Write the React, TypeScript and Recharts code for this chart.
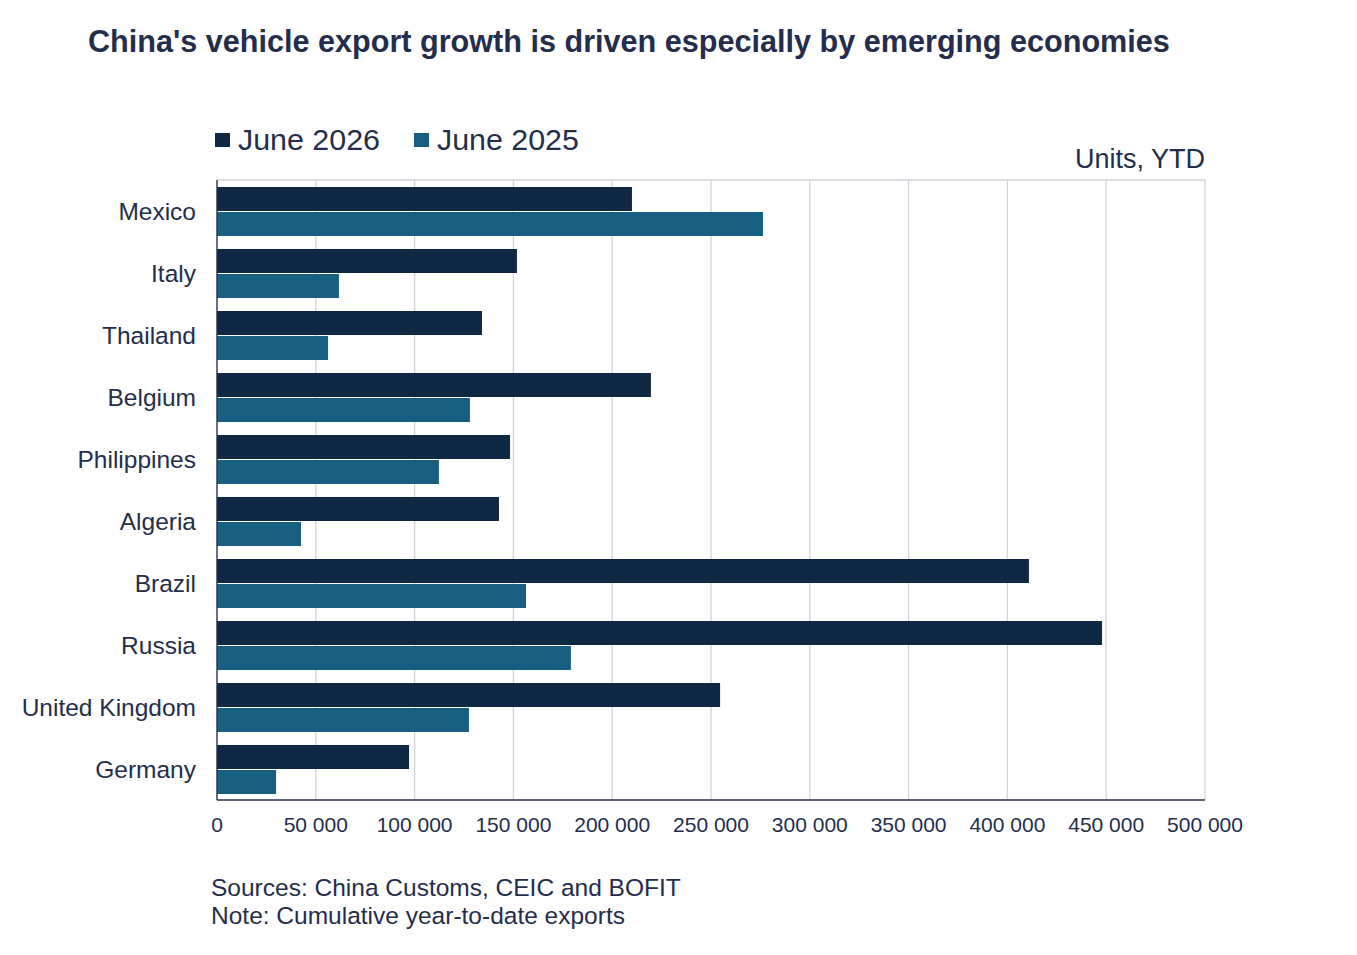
import React from "react";
import {
  BarChart,
  Bar,
  XAxis,
  YAxis,
  CartesianGrid,
} from "recharts";

// Cumulative year-to-date vehicle exports from China, units
const countries = [
  "Mexico",
  "Italy",
  "Thailand",
  "Belgium",
  "Philippines",
  "Algeria",
  "Brazil",
  "Russia",
  "United Kingdom",
  "Germany",
];
const june2026 = [210000, 151800, 134100, 219600, 148300, 142700, 410900, 447900, 254600, 97200];
const june2025 = [276300, 61700, 56200, 128000, 112300, 42500, 156400, 179100, 127500, 29900];
const xTicks = [0, 50000, 100000, 150000, 200000, 250000, 300000, 350000, 400000, 450000, 500000];

const data = countries.map((name, i) => ({ name, y2026: june2026[i], y2025: june2025[i] }));

const TEXT = "#242e4c";
const NAVY = "#0f2944";
const TEAL = "#175f80";
const GRID = "#d2d2da";
const FONT = "'Liberation Sans', Arial, Helvetica, sans-serif";

const series = [
  { key: "y2026", name: "June 2026", color: NAVY },
  { key: "y2025", name: "June 2025", color: TEAL },
];

const fmt = (v: number) => String(v).replace(/\B(?=(\d{3})+(?!\d))/g, " ");

export default function App() {
  return (
    <div
      style={{
        position: "absolute",
        left: 0,
        top: 0,
        width: 1357,
        height: 955,
        background: "#fff",
        fontFamily: FONT,
        color: TEXT,
      }}
    >
      <div style={{ position: "absolute", left: 88, top: 24, fontSize: 30.6, fontWeight: 700, whiteSpace: "nowrap" }}>
        China's vehicle export growth is driven especially by emerging economies
      </div>

      {/* legend */}
      <div style={{ position: "absolute", left: 215, top: 122, display: "flex", alignItems: "center", fontSize: 30.4 }}>
        {series.map((s) => (
          <div key={s.key} style={{ display: "flex", alignItems: "center", marginRight: 34 }}>
            <div style={{ width: 15, height: 14, background: s.color, marginRight: 8 }} />
            <span>{s.name}</span>
          </div>
        ))}
      </div>

      <div style={{ position: "absolute", right: 152, top: 144, fontSize: 27, whiteSpace: "nowrap" }}>
        Units, YTD
      </div>

      <div style={{ position: "absolute", left: 0, top: 0 }}>
        <BarChart
          width={1357}
          height={955}
          data={data}
          layout="vertical"
          margin={{ top: 179, right: 152, bottom: 115, left: 0 }}
          barGap={1}
        >
          <CartesianGrid xAxisId="bottom" horizontal={false} stroke={GRID} strokeWidth={1.3} />
          <XAxis
            xAxisId="top"
            orientation="top"
            type="number"
            domain={[0, 500000]}
            height={1}
            tick={false}
            tickLine={false}
            axisLine={{ stroke: GRID, strokeWidth: 1.3 }}
          />
          <XAxis
            xAxisId="bottom"
            type="number"
            domain={[0, 500000]}
            ticks={xTicks}
            tickFormatter={fmt}
            interval={0}
            height={40}
            tickLine={false}
            tickMargin={11}
            axisLine={{ stroke: TEXT, strokeWidth: 1.3 }}
            tick={{ fill: TEXT, fontSize: 21, fontFamily: FONT }}
          />
          <YAxis
            type="category"
            dataKey="name"
            width={217}
            tickLine={false}
            tickMargin={15}
            interval={0}
            axisLine={{ stroke: TEXT, strokeWidth: 1.3 }}
            tick={{ fill: TEXT, fontSize: 24.5, fontFamily: FONT }}
          />
          {series.map((s) => (
            <Bar
              key={s.key}
              xAxisId="bottom"
              dataKey={s.key}
              name={s.name}
              fill={s.color}
              barSize={24}
              isAnimationActive={false}
            />
          ))}
        </BarChart>
      </div>

      <div style={{ position: "absolute", left: 211, top: 874, fontSize: 24.5, lineHeight: "28px", whiteSpace: "nowrap" }}>
        <div>Sources: China Customs, CEIC and BOFIT</div>
        <div>Note: Cumulative year-to-date exports</div>
      </div>
    </div>
  );
}
